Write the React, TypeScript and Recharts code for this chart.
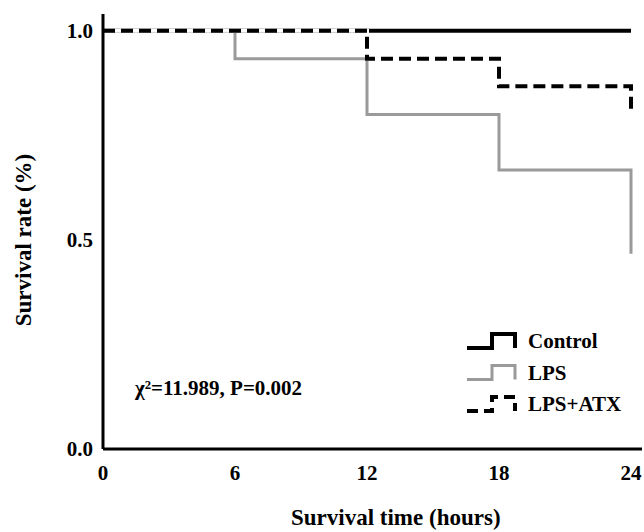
import React from 'react';
import { LineChart, Line, XAxis, YAxis } from 'recharts';

// Kaplan-Meier style survival curves
const hours = [0, 6, 12, 18, 24];
const control = [1, 1, 1, 1, 1];
const lps = [1, 0.933, 0.8, 0.667, 0.467];
const lpsAtx = [1, 1, 0.933, 0.867, 0.8];

const xTicks = [0, 6, 12, 18, 24];
const yTicks = [0, 0.5, 1.0];

const data = hours.map((h, i) => ({
  hour: h,
  control: control[i],
  lps: lps[i],
  lpsAtx: lpsAtx[i],
}));

const series = [
  { key: 'control', name: 'Control', color: '#000', width: 4, dash: false },
  { key: 'lps', name: 'LPS', color: '#9a9a9a', width: 3, dash: false },
  { key: 'lpsAtx', name: 'LPS+ATX', color: '#000', width: 4, dash: true },
];

const FONT = '"Liberation Serif", "Times New Roman", serif';
const W = 644;
const H = 532;

const tickStyle = { fontFamily: FONT, fontWeight: 700, fontSize: 21, fill: '#000' };

function Overlay() {
  return (
    <svg
      width={W}
      height={H}
      style={{ position: 'absolute', left: 0, top: 0, pointerEvents: 'none' }}
      fontFamily={FONT}
      fontWeight={700}
    >
      <text x={23} y={240} fontSize={23} textAnchor="middle" dominantBaseline="central" transform="rotate(-90 23 240)">
        Survival rate (%)
      </text>
      <text x={291} y={525} fontSize={23}>
        Survival time (hours)
      </text>
      <text x={135} y={395} fontSize={21}>
        χ²=11.989, P=0.002
      </text>
      {series.map((s, i) => {
        const cy = 341 + i * 31.5;
        return (
          <g key={s.key}>
            <path
              d={`M467,${cy + 7} H492 V${cy - 7} H515 V${cy + 7}`}
              fill="none"
              stroke={s.color}
              strokeWidth={s.width}
              strokeDasharray={s.dash ? '11 6' : undefined}
            />
            <text x={528} y={cy + 7} fontSize={21}>
              {s.name}
            </text>
          </g>
        );
      })}
    </svg>
  );
}

export default function App() {
  return (
    <div style={{ position: 'absolute', left: 0, top: 0, width: W, height: H, background: '#fff' }}>
      <LineChart width={W} height={H} data={data} margin={{ top: 14, right: 2, left: 0, bottom: 0 }}>
        <XAxis
          dataKey="hour"
          type="number"
          domain={[0, 24.5]}
          ticks={xTicks}
          height={83}
          tickLine={false}
          tickSize={6}
          tickMargin={10}
          axisLine={{ stroke: '#000', strokeWidth: 3 }}
          tick={tickStyle}
        />
        <YAxis
          type="number"
          domain={[0, 1.04]}
          ticks={yTicks}
          width={103}
          tickLine={false}
          tickSize={6}
          tickMargin={4}
          axisLine={{ stroke: '#000', strokeWidth: 3 }}
          tick={tickStyle}
          tickFormatter={(v: number) => v.toFixed(1)}
        />
        <Line dataKey="control" type="stepAfter" stroke="#000" strokeWidth={4} dot={false} isAnimationActive={false} />
        <Line dataKey="lps" type="stepAfter" stroke="#9a9a9a" strokeWidth={3} dot={false} isAnimationActive={false} />
        {/* white underlay so the dashes stay visible where they sit on the control line */}
        <Line dataKey="lpsAtx" type="stepAfter" stroke="#fff" strokeWidth={4} dot={false} isAnimationActive={false} />
        <Line
          dataKey="lpsAtx"
          type="stepAfter"
          stroke="#000"
          strokeWidth={4}
          strokeDasharray="12 6"
          dot={false}
          isAnimationActive={false}
        />
      </LineChart>
      <Overlay />
    </div>
  );
}
